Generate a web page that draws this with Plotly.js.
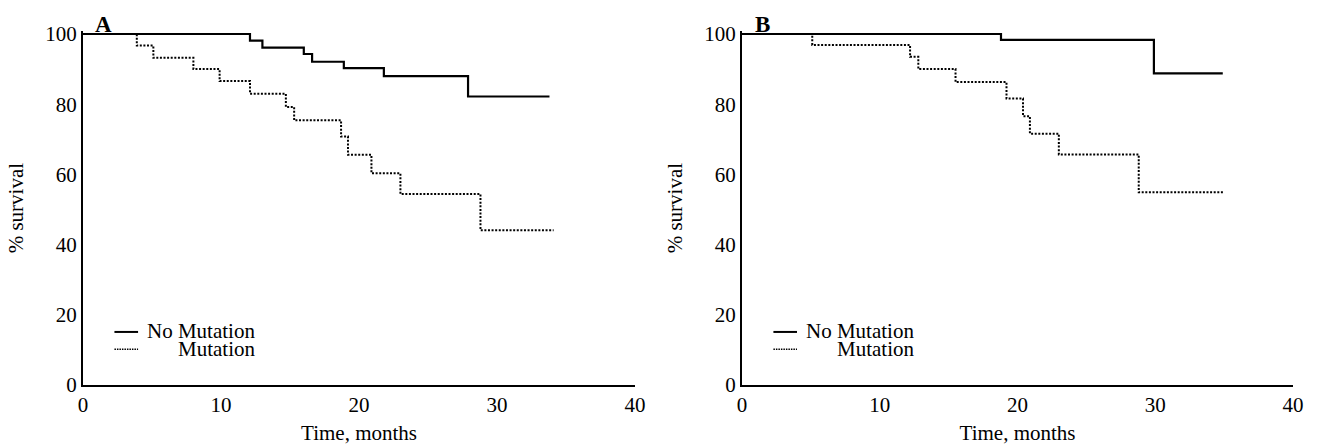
<!DOCTYPE html>
<html>
<head>
<meta charset="utf-8">
<script src="https://cdn.plot.ly/plotly-3.0.1.min.js"></script>
<style>html,body{margin:0;padding:0;background:#fff;}#chart{width:1317px;height:445px;}</style>
</head>
<body>
<div id="chart"></div>
<script>
// Panel A (Kaplan-Meier steps, months vs % survival)
const aNoMutTime = [0, 12.1, 13.0, 16.0, 16.6, 18.9, 21.8, 27.9, 33.8];
const aNoMutSurv = [100, 98.1, 96.1, 94.3, 92.1, 90.3, 88.0, 82.2, 82.2];
const aMutTime = [0, 3.9, 5.1, 8.0, 9.9, 12.1, 14.7, 15.3, 18.7, 19.2, 20.9, 23.0, 28.8, 34.1];
const aMutSurv = [100, 96.7, 93.2, 90.0, 86.6, 83.0, 79.2, 75.4, 70.8, 65.6, 60.3, 54.4, 44.1, 44.1];
// Panel B
const bNoMutTime = [0, 18.8, 29.9, 34.9];
const bNoMutSurv = [100, 98.3, 88.8, 88.8];
const bMutTime = [0, 5.1, 12.2, 12.8, 15.5, 19.2, 20.4, 20.9, 23.0, 28.8, 35.0];
const bMutSurv = [100, 96.9, 93.5, 90.0, 86.3, 81.6, 76.6, 71.6, 65.7, 54.9, 54.9];

const seriesNames = ['No Mutation', 'Mutation'];
const panelLabels = ['A', 'B'];
const xTickVals = [0, 10, 20, 30, 40];
const yTickVals = [0, 20, 40, 60, 80, 100];
const xTitle = 'Time, months';
const yTitle = '% survival';

const FONT = 'Liberation Serif, Times New Roman, serif';
const solid = {color: '#000', width: 2.2, shape: 'hv'};
const dotted = {color: '#000', width: 2, shape: 'hv', dash: '2px,1.6px'};

const traces = [
  {x: aNoMutTime, y: aNoMutSurv, mode: 'lines', line: solid, name: seriesNames[0], xaxis: 'x', yaxis: 'y'},
  {x: aMutTime, y: aMutSurv, mode: 'lines', line: dotted, name: seriesNames[1], xaxis: 'x', yaxis: 'y'},
  {x: bNoMutTime, y: bNoMutSurv, mode: 'lines', line: solid, name: seriesNames[0], xaxis: 'x2', yaxis: 'y2'},
  {x: bMutTime, y: bMutSurv, mode: 'lines', line: dotted, name: seriesNames[1], xaxis: 'x2', yaxis: 'y2'}
];

function xax(domain, anchor) {
  return {
    domain: domain, anchor: anchor, range: [0, 40], tickvals: xTickVals,
    showgrid: false, zeroline: false, showline: true, linecolor: '#000', linewidth: 2,
    ticks: '', tickfont: {family: FONT, size: 21, color: '#000'},
    title: {text: xTitle, font: {family: FONT, size: 21, color: '#000'}, standoff: 12},
    fixedrange: true
  };
}
function yax(domain, anchor) {
  return {
    domain: domain, anchor: anchor, range: [0, 100.8], tickvals: yTickVals,
    showgrid: false, zeroline: false, showline: true, linecolor: '#000', linewidth: 2,
    ticks: '', tickfont: {family: FONT, size: 21, color: '#000'},
    title: {text: yTitle, font: {family: FONT, size: 21, color: '#000'}, standoff: 16},
    fixedrange: true
  };
}

const yDom = [0.1348, 0.9299];
const layout = {
  width: 1317, height: 445,
  margin: {l: 0, r: 0, t: 0, b: 0},
  paper_bgcolor: '#fff', plot_bgcolor: '#fff',
  showlegend: false,
  xaxis: xax([0.0630, 0.4822], 'y'),
  yaxis: yax(yDom, 'x'),
  xaxis2: xax([0.5634, 0.9818], 'y2'),
  yaxis2: yax(yDom, 'x2'),
  shapes: [],
  annotations: []
};

[['x', 'y'], ['x2', 'y2']].forEach(function (ax, i) {
  const xr = ax[0] + ' domain', yr = ax[1] + ' domain';
  layout.annotations.push({
    text: '<b>' + panelLabels[i] + '</b>', xref: xr, yref: yr, x: 0.038, y: 1.02,
    xanchor: 'center', yanchor: 'middle', showarrow: false,
    font: {family: FONT, size: 23, color: '#000'}
  });
  // legend (line samples + labels)
  layout.shapes.push({type: 'line', xref: xr, yref: yr, x0: 0.057, x1: 0.0998, y0: 0.150, y1: 0.150,
    line: {color: '#000', width: 2}});
  layout.shapes.push({type: 'line', xref: xr, yref: yr, x0: 0.057, x1: 0.0998, y0: 0.101, y1: 0.101,
    line: {color: '#000', width: 1.5, dash: '1.5px,1px'}});
  layout.annotations.push({text: seriesNames[0], xref: xr, yref: yr, x: 0.3155, y: 0.152,
    xanchor: 'right', yanchor: 'middle', showarrow: false, font: {family: FONT, size: 21, color: '#000'}});
  layout.annotations.push({text: seriesNames[1], xref: xr, yref: yr, x: 0.3155, y: 0.103,
    xanchor: 'right', yanchor: 'middle', showarrow: false, font: {family: FONT, size: 21, color: '#000'}});
});

Plotly.newPlot('chart', traces, layout, {staticPlot: true, displayModeBar: false});
</script>
</body>
</html>
